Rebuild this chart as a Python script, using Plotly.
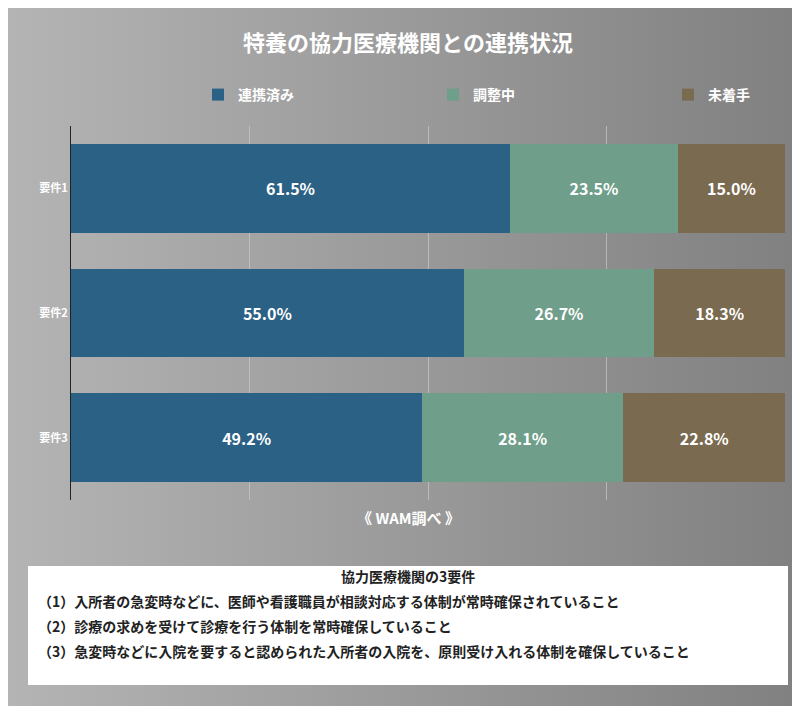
import plotly.graph_objects as go

categories = ["要件1", "要件2", "要件3"]
done = [61.5, 55.0, 49.2]
adjusting = [23.5, 26.7, 28.1]
not_started = [15.0, 18.3, 22.8]
series = [("連携済み", done, "#2b6185"), ("調整中", adjusting, "#6f9e8a"), ("未着手", not_started, "#7a6a50")]

W, H = 800, 706
FONT = "Noto Sans CJK JP"
fig = go.Figure()
for name, vals, col in series:
    fig.add_trace(go.Bar(
        y=categories, x=vals, name=f"<b>{name}</b>", orientation="h", marker=dict(color=col, line_width=0),
        text=[f"<b>{v:.1f}%</b>" for v in vals], textposition="inside", insidetextanchor="middle",
        textfont=dict(color="white", size=16, family=FONT), hoverinfo="skip"))

def px(x): return (x - 63) / 714
def py(y): return (492 - y) / 374

shapes = []
n = 100
for i in range(n):
    t = i / (n - 1)
    g = int(round(180 - 52 * t))
    shapes.append(dict(type="rect", xref="paper", yref="paper", layer="below",
                       x0=px(i * W / n), x1=px((i + 1.05) * W / n),
                       y0=py(H + 2), y1=py(-2), fillcolor=f"rgb({g},{g},{g})", line_width=0))
shapes.append(dict(type="rect", xref="paper", yref="paper", x0=px(20), x1=px(780), y0=py(677), y1=py(558),
                   fillcolor="white", line_width=0, layer="above"))

ann = [
    dict(text="<b>《 WAM調べ 》</b>", x=px(400), y=py(522), showarrow=False, xref="paper", yref="paper",
         font=dict(size=15, color="white", family=FONT)),
    dict(text="<b>協力医療機関の3要件</b>", x=px(400), y=py(580), showarrow=False, xref="paper", yref="paper",
         font=dict(size=14, color="#222", family=FONT)),
]
lines = ["（1）入所者の急変時などに、医師や看護職員が相談対応する体制が常時確保されていること",
         "（2）診療の求めを受けて診療を行う体制を常時確保していること",
         "（3）急変時などに入院を要すると認められた入所者の入院を、原則受け入れる体制を確保していること"]
for k, s in enumerate(lines):
    ann.append(dict(text=f"<b>{s}</b>", x=px(28), y=py(605 + 25 * k), xanchor="left", showarrow=False,
                    xref="paper", yref="paper", font=dict(size=14, color="#222", family=FONT)))

fig.update_layout(
    width=W, height=H, barmode="stack", bargap=0.29,
    margin=dict(l=63, r=23, t=118, b=214, autoexpand=False),
    paper_bgcolor="#9a9a9a", plot_bgcolor="rgba(0,0,0,0)",
    title=dict(text="<b>特養の協力医療機関との連携状況</b>", x=0.5, xanchor="center", y=1 - 35 / H, yanchor="middle",
               font=dict(size=22, color="white", family=FONT)),
    legend=dict(orientation="h", x=px(190), xanchor="left", y=py(87), yanchor="middle", traceorder="normal",
                bgcolor="rgba(0,0,0,0)", font=dict(size=14, color="white", family=FONT),
                entrywidth=190, itemwidth=30),
    xaxis=dict(range=[0, 100], showticklabels=False, showgrid=True, gridcolor="rgba(210,210,210,0.6)",
               dtick=25, zeroline=False, automargin=False),
    yaxis=dict(autorange="reversed", showline=True, linecolor="#222", linewidth=1, ticks="", automargin=False,
               tickfont=dict(size=11, color="white", family=FONT), tickprefix="<b>", ticksuffix="</b>"),
    shapes=shapes, annotations=ann, uniformtext=dict(minsize=16, mode="show"),
)
fig.write_html("out.html")
